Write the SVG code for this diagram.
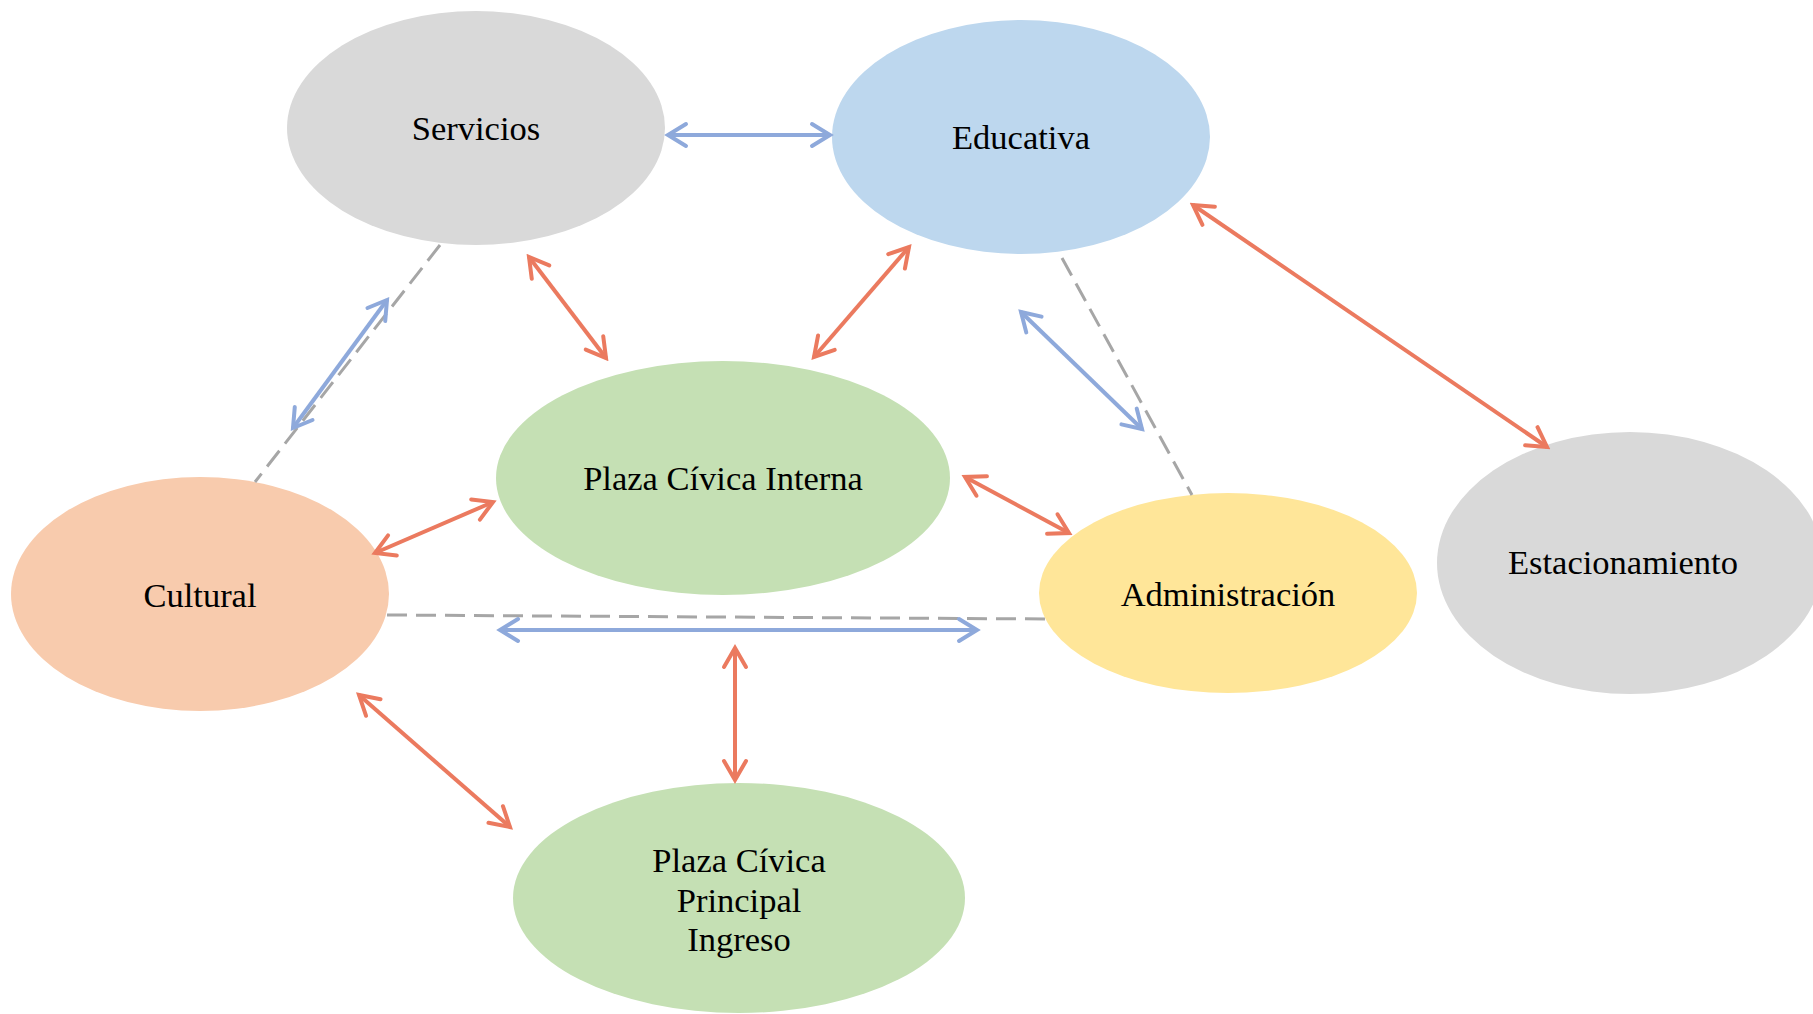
<svg xmlns="http://www.w3.org/2000/svg" width="1813" height="1014" viewBox="0 0 1813 1014">
<style>
.lbl{font-family:"Liberation Serif","Times New Roman",serif;font-size:34.5px;fill:#000;text-anchor:middle}
.red{stroke:#EB7A5F;stroke-width:4;fill:none;marker-start:url(#hr);marker-end:url(#hr)}
.blue{stroke:#8EA9DB;stroke-width:4;fill:none;marker-start:url(#hb);marker-end:url(#hb)}
.dash{stroke:#A6A6A6;stroke-width:3;fill:none;stroke-dasharray:20 9}
</style>
<defs>
<marker id="hr" viewBox="-24 -15 28 30" markerWidth="28" markerHeight="30" refX="0" refY="0" orient="auto-start-reverse" markerUnits="userSpaceOnUse">
<path d="M-19,-11 L0,0 L-19,11" fill="none" stroke="#EB7A5F" stroke-width="4" stroke-linecap="round" stroke-linejoin="miter"/>
</marker>
<marker id="hb" viewBox="-24 -15 28 30" markerWidth="28" markerHeight="30" refX="0" refY="0" orient="auto-start-reverse" markerUnits="userSpaceOnUse">
<path d="M-18,-11 L0,0 L-18,11" fill="none" stroke="#8EA9DB" stroke-width="4" stroke-linecap="round" stroke-linejoin="miter"/>
</marker>
</defs>
<rect width="1813" height="1014" fill="#fff"/>
<g id="nodes">
<g id="servicios"><ellipse cx="476" cy="128" rx="189" ry="117" fill="#D9D9D9"/><text class="lbl" x="476" y="140">Servicios</text></g>
<g id="educativa"><ellipse cx="1021" cy="137" rx="189" ry="117" fill="#BDD7EE"/><text class="lbl" x="1021" y="149">Educativa</text></g>
<g id="plaza-interna"><ellipse cx="723" cy="478" rx="227" ry="117" fill="#C5E0B4"/><text class="lbl" x="723" y="490">Plaza Cívica Interna</text></g>
<g id="cultural"><ellipse cx="200" cy="594" rx="189" ry="117" fill="#F8CBAD"/><text class="lbl" x="200" y="607">Cultural</text></g>
<g id="administracion"><ellipse cx="1228" cy="593" rx="189" ry="100" fill="#FFE699"/><text class="lbl" x="1228" y="606">Administración</text></g>
<g id="estacionamiento"><ellipse cx="1630" cy="563" rx="193" ry="131" fill="#D9D9D9"/><text class="lbl" x="1623" y="574">Estacionamiento</text></g>
<g id="plaza-principal"><ellipse cx="739" cy="898" rx="226" ry="115" fill="#C5E0B4"/><text class="lbl" x="739" y="872">Plaza Cívica</text><text class="lbl" x="739" y="912">Principal</text><text class="lbl" x="739" y="951">Ingreso</text></g>
</g>
<g id="connectors">
<line class="dash" x1="440" y1="245" x2="255" y2="482"/>
<line class="dash" x1="1062" y1="258" x2="1192" y2="495"/>
<line class="dash" x1="387" y1="615" x2="1046" y2="619"/>
<line class="blue" x1="668" y1="135" x2="830" y2="135"/>
<line class="blue" x1="387" y1="300" x2="293" y2="428"/>
<line class="red" x1="529" y1="257" x2="606" y2="358"/>
<line class="red" x1="909" y1="247" x2="814" y2="357"/>
<line class="red" x1="1193" y1="205" x2="1547" y2="447"/>
<line class="blue" x1="1021" y1="312" x2="1142" y2="429"/>
<line class="red" x1="965" y1="477" x2="1069" y2="533"/>
<line class="red" x1="375" y1="553" x2="493" y2="502"/>
<line class="blue" x1="500" y1="630" x2="977" y2="630"/>
<line class="red" x1="735" y1="648" x2="735" y2="780"/>
<line class="red" x1="359" y1="695" x2="510" y2="827"/>
</g>
</svg>
